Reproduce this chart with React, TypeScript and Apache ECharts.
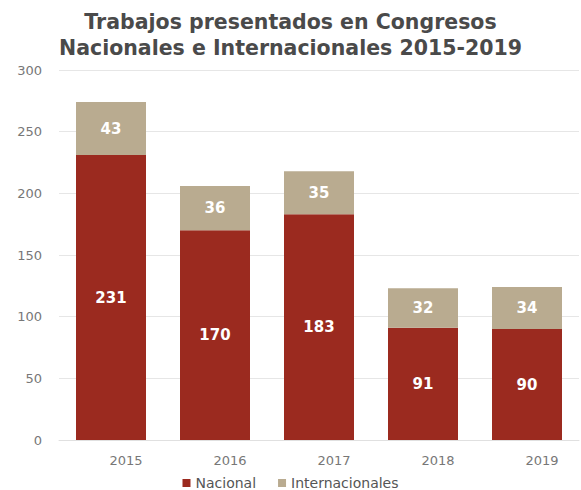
import React, { useEffect, useRef } from "react";
import * as echarts from "echarts";

const years = ["2015", "2016", "2017", "2018", "2019"];
const nacional = [231, 170, 183, 91, 90];
const internacionales = [43, 36, 35, 32, 34];
const titleText = "Trabajos presentados en Congresos\nNacionales e Internacionales 2015-2019";

export default function App() {
  const ref = useRef<HTMLDivElement>(null);
  useEffect(() => {
    const chart = echarts.init(ref.current!, null, { renderer: "svg" });
    const font = "'DejaVu Sans', sans-serif";
    chart.setOption({
      animation: false,
      backgroundColor: "#ffffff",
      title: {
        text: titleText,
        left: "center",
        top: 4,
        textStyle: {
          fontFamily: font,
          fontSize: 20.5,
          fontWeight: "bold",
          color: "#4a4a4a",
          lineHeight: 26,
        },
      },
      legend: {
        top: 471,
        left: "center",
        itemWidth: 8,
        itemHeight: 8,
        itemGap: 22,
        icon: "rect",
        textStyle: { fontFamily: font, fontSize: 14, color: "#555" },
        data: ["Nacional", "Internacionales"],
      },
      grid: { left: 59, right: 2, top: 70, bottom: 50 },
      xAxis: {
        type: "category",
        data: years,
        axisLine: { lineStyle: { color: "#e0e0e0" } },
        axisTick: { show: false },
        axisLabel: {
          fontFamily: font,
          fontSize: 13,
          color: "#777",
          margin: 14,
          padding: [0, 0, 0, 30],
        },
      },
      yAxis: {
        type: "value",
        min: 0,
        max: 300,
        interval: 50,
        axisLine: { show: false },
        axisTick: { show: false },
        splitLine: { lineStyle: { color: "#e6e6e6" } },
        axisLabel: { fontFamily: font, fontSize: 13, color: "#777", margin: 17 },
      },
      series: [
        {
          name: "Nacional",
          type: "bar",
          stack: "total",
          data: nacional,
          barWidth: 70,
          itemStyle: { color: "#9b2a1f" },
          label: {
            show: true,
            position: "inside",
            fontFamily: font,
            fontWeight: "bold",
            fontSize: 15,
            color: "#ffffff",
          },
        },
        {
          name: "Internacionales",
          type: "bar",
          stack: "total",
          data: internacionales,
          barWidth: 70,
          itemStyle: { color: "#b9ab90" },
          label: {
            show: true,
            position: "inside",
            fontFamily: font,
            fontWeight: "bold",
            fontSize: 15,
            color: "#ffffff",
          },
        },
      ],
    });
    return () => chart.dispose();
  }, []);
  return <div ref={ref} style={{ width: 581, height: 490, position: "absolute", left: 0, top: 0 }} />;
}
